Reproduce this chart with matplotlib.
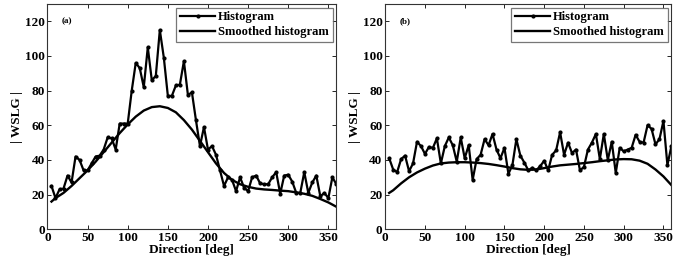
import numpy as np
import matplotlib.pyplot as plt

plt.rcParams['font.family'] = ['Liberation Serif', 'DejaVu Serif']
plt.rcParams['font.weight'] = 'bold'

# histogram bins (deg)
hist_dir = np.arange(5, 365, 5)

hist_a = [25, 18, 23, 23.5, 31, 27, 42, 40, 34, 34,
          38, 42, 42.5, 46, 53, 52.5, 46, 61, 61, 61,
          80, 96, 93, 82, 105, 86, 88.5, 115, 99, 77,
          77, 83, 83.5, 97, 77.5, 79, 63, 48, 59, 46,
          48, 43, 34, 25, 30, 28.5, 22, 30, 24, 22,
          30, 31, 26.5, 26, 26, 30, 33, 20.5, 31, 31.5,
          27.5, 21, 21, 33, 21, 27, 31, 19, 21, 18,
          30, 26]

hist_b = [41, 34.5, 33, 40.5, 42.5, 33.5, 38, 50.5, 48, 43.5,
          47.5, 47, 52.5, 38, 48, 53, 48.5, 39, 53, 41,
          48.5, 28.5, 40.5, 43, 52, 48.5, 55, 46, 41, 47,
          32, 37, 52, 42.5, 38.5, 34, 35.5, 34, 36.5, 39.5,
          34, 43, 45.5, 56, 43, 50, 44, 46, 34, 36,
          46, 50, 55, 40.5, 55, 40, 50.5, 32.5, 47, 45,
          46, 47, 54.5, 50.5, 50, 60, 58, 49, 52, 62.5,
          37, 48]

# smoothed curves (deg)
smooth_dir = [5, 10, 20, 30, 40, 50, 60, 70, 80, 90, 100, 110, 120,
              130, 140, 150, 160, 170, 180, 190, 200, 210, 220, 230,
              240, 250, 260, 270, 280, 290, 300, 310, 320, 330, 340,
              350, 360]

smooth_a = [16, 18, 21, 25, 29.5, 34, 39, 44.5, 50, 55.5, 60.5, 65,
            68.5, 70.5, 71, 70, 67.5, 63, 57.5, 51, 44.5, 38, 32.5,
            28.5, 26, 24.5, 23.5, 23, 22.7, 22.3, 22, 21.3, 20.5,
            19.3, 17.5, 15.5, 13]

smooth_b = [21, 22.5, 26.5, 30, 32.8, 35, 36.8, 38, 38.5, 38.7, 38.7,
            38.5, 38.2, 37.7, 37, 36.2, 35.3, 34.6, 34.3, 34.5, 35.3,
            36.2, 36.9, 37.3, 37.7, 38.2, 38.7, 39.3, 39.8, 40.3, 40.5,
            40.4, 39.6, 37.8, 34.5, 30.5, 25.5]

panels = [
    ('(a)', hist_a, smooth_a, 'Histogram'),
    ('(b)', hist_b, smooth_b, 'Histogram'),
]

fig = plt.figure(figsize=(6.83, 2.66), dpi=100)
rects = [[0.0695, 0.138, 0.423, 0.847], [0.564, 0.138, 0.419, 0.847]]

for rect, (tag, h, s, hlabel) in zip(rects, panels):
    ax = fig.add_axes(rect)
    ax.plot(hist_dir, h, '-', color='black', lw=1.6, marker='o', ms=2.0,
            label=hlabel)
    ax.plot(smooth_dir, s, '-', color='black', lw=1.7,
            label='Smoothed histogram')
    ax.set_xlim(0, 360)
    ax.set_ylim(0, 130)
    ax.set_xticks(range(0, 351, 50))
    ax.set_yticks(range(0, 121, 20))
    ax.tick_params(direction='in', top=True, right=True, length=3,
                   width=0.6, labelsize=9.5, pad=2)
    for lab in ax.get_xticklabels() + ax.get_yticklabels():
        lab.set_fontweight('bold')
    for sp in ax.spines.values():
        sp.set_linewidth(0.8)
        sp.set_color('#333333')
    ax.set_xlabel('Direction [deg]', fontsize=9.5, fontweight='bold',
                  labelpad=0)
    ax.set_ylabel('| WSLG |', fontsize=9.5, fontweight='bold', labelpad=1)
    ax.text(18, 120, tag, fontsize=6.5, fontweight='bold', va='center')
    leg = ax.legend(loc='upper right', frameon=True,
                    fancybox=False, borderpad=0.3, labelspacing=0.2,
                    handlelength=2.8, handletextpad=0.25,
                    borderaxespad=0.3, prop={'weight': 'bold', 'size': 9})
    leg.get_frame().set_edgecolor('#555555')
    leg.get_frame().set_linewidth(0.9)

fig.savefig('out.png', dpi=100)
